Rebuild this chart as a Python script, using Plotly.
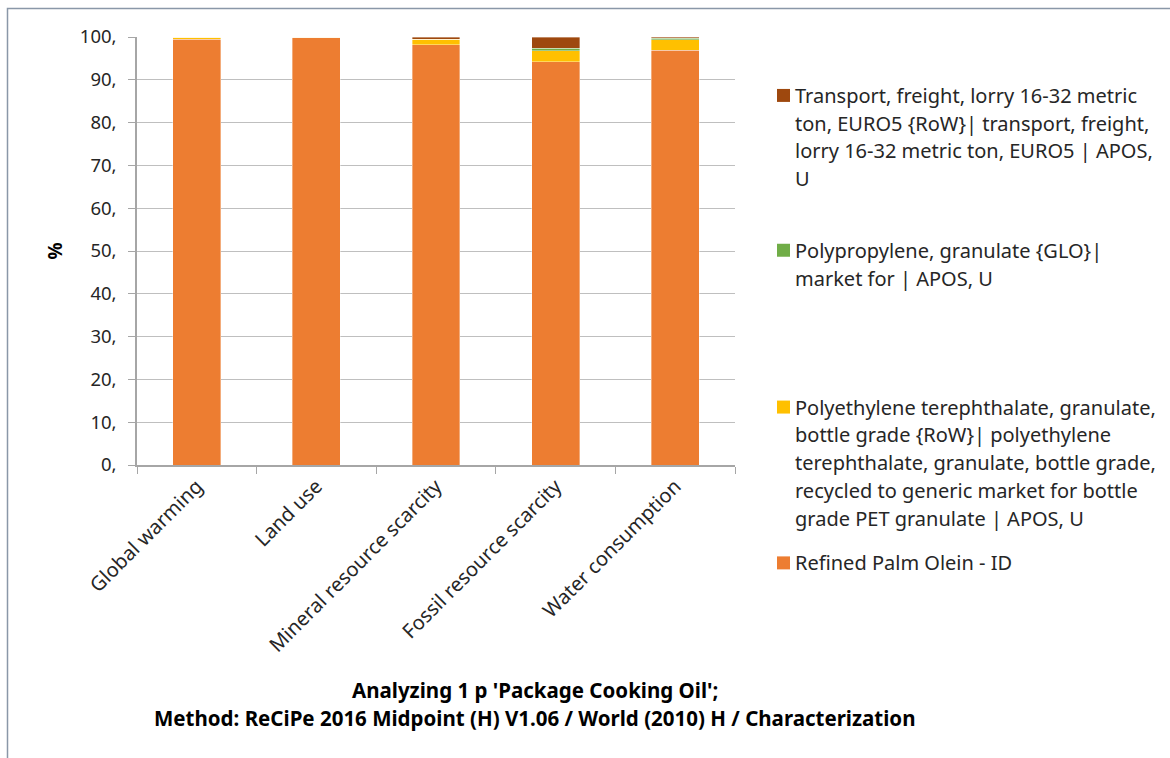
import plotly.graph_objects as go

# Impact categories and the contribution (%) of each process
categories = ["Global warming", "Land use", "Mineral resource scarcity",
              "Fossil resource scarcity", "Water consumption"]
palm_olein = [99.45, 99.80, 98.20, 94.20, 96.85]
pet_granulate = [0.45, 0.10, 1.25, 2.60, 2.50]
pp_granulate = [0.05, 0.03, 0.05, 0.55, 0.35]
transport = [0.05, 0.07, 0.50, 2.65, 0.30]

y_tick_values = [0, 10, 20, 30, 40, 50, 60, 70, 80, 90, 100]
y_tick_labels = ["0,", "10,", "20,", "30,", "40,", "50,", "60,", "70,", "80,", "90,", "100,"]

series_names = [
    "Refined Palm Olein - ID",
    "Polyethylene terephthalate, granulate, bottle grade {RoW}| polyethylene terephthalate, "
    "granulate, bottle grade, recycled to generic market for bottle grade PET granulate | APOS, U",
    "Polypropylene, granulate {GLO}| market for | APOS, U",
    "Transport, freight, lorry 16-32 metric ton, EURO5 {RoW}| transport, freight, "
    "lorry 16-32 metric ton, EURO5 | APOS, U",
]
series_values = [palm_olein, pet_granulate, pp_granulate, transport]
series_colors = ["#ED7D31", "#FFC000", "#70AD47", "#9E480E"]

# Legend text, wrapped line by line (top entry first)
legend_lines = [
    ["Transport, freight, lorry 16-32 metric",
     "ton, EURO5 {RoW}| transport, freight,",
     "lorry 16-32 metric ton, EURO5 | APOS,",
     "U"],
    ["Polypropylene, granulate {GLO}|",
     "market for | APOS, U"],
    ["Polyethylene terephthalate, granulate,",
     "bottle grade {RoW}| polyethylene",
     "terephthalate, granulate, bottle grade,",
     "recycled to generic market for bottle",
     "grade PET granulate | APOS, U"],
    ["Refined Palm Olein - ID"],
]
legend_colors = ["#9E480E", "#70AD47", "#FFC000", "#ED7D31"]
legend_first_line_y = [95, 250, 407, 563]   # pixel rows of each entry's first line
LINE_STEP = 27.8

W, H = 1170, 758
PLOT_L, PLOT_R, PLOT_T, PLOT_B = 137, 735, 36.5, 465
FONT = "Noto Sans"
TEXT_COLOR = "#262626"


def px_x(px):
    return (px - PLOT_L) / (PLOT_R - PLOT_L)


def px_y(py):
    return (PLOT_B - py) / (PLOT_B - PLOT_T)


fig = go.Figure()
for name, vals, color in zip(series_names, series_values, series_colors):
    fig.add_trace(go.Bar(
        x=categories, y=vals, name=name,
        marker=dict(color=color, line=dict(color="rgba(255,255,255,0.45)", width=0.8)),
        showlegend=False,
    ))

annotations = []
shapes = []

# Legend drawn as coloured squares with wrapped labels
for lines, color, y0 in zip(legend_lines, legend_colors, legend_first_line_y):
    shapes.append(dict(type="rect", xref="paper", yref="paper",
                       x0=px_x(777), x1=px_x(790), y0=px_y(y0 + 6.5), y1=px_y(y0 - 6.5),
                       fillcolor=color, line=dict(width=0)))
    for i, line in enumerate(lines):
        annotations.append(dict(text=line, xref="paper", yref="paper",
                                x=px_x(793), y=px_y(y0 + i * LINE_STEP),
                                xanchor="left", yanchor="middle", showarrow=False,
                                font=dict(family=FONT, size=20, color=TEXT_COLOR)))

# Chart title, two centred bold lines
title_lines = ["Analyzing 1 p 'Package Cooking Oil';",
               "Method: ReCiPe 2016 Midpoint (H) V1.06 / World (2010) H / Characterization"]
for i, line in enumerate(title_lines):
    annotations.append(dict(text="<b>" + line + "</b>", xref="paper", yref="paper",
                            x=px_x(535), y=px_y(690 + i * 28),
                            xanchor="center", yanchor="middle", showarrow=False,
                            font=dict(family=FONT, size=20.5, color="#000000")))

# Outer chart frame
shapes.append(dict(type="rect", xref="paper", yref="paper",
                   x0=px_x(7.5), x1=px_x(W + 50), y0=px_y(H + 50), y1=px_y(8),
                   line=dict(color="#8a97a8", width=1.5), fillcolor="rgba(0,0,0,0)", layer="below"))

fig.update_layout(
    barmode="stack",
    bargap=0.6,
    width=W, height=H, autosize=False,
    margin=dict(l=PLOT_L, r=W - PLOT_R, t=PLOT_T, b=H - PLOT_B, pad=0),
    paper_bgcolor="white", plot_bgcolor="white",
    font=dict(family=FONT, size=18, color=TEXT_COLOR),
    annotations=annotations,
    shapes=shapes,
    xaxis=dict(
        type="category", tickangle=-45, tickson="boundaries",
        ticks="outside", ticklen=7, tickcolor="#a6a6a6",
        showline=True, linecolor="#a6a6a6", linewidth=1.5,
        showgrid=False, tickfont=dict(family=FONT, size=20, color=TEXT_COLOR),
    ),
    yaxis=dict(
        range=[0, 100], tickvals=y_tick_values, ticktext=y_tick_labels,
        ticks="outside", ticklen=7, tickcolor="#a6a6a6",
        showline=True, linecolor="#a6a6a6", linewidth=1.5,
        showgrid=True, gridcolor="#bfbfbf", gridwidth=1.3,
        zeroline=False, ticklabelstandoff=8,
        tickfont=dict(family=FONT, size=18.5, color=TEXT_COLOR),
        title=dict(text="<b>%</b>", standoff=12,
                   font=dict(family=FONT, size=19, color="#000000")),
    ),
)

fig.write_html("out.html")
